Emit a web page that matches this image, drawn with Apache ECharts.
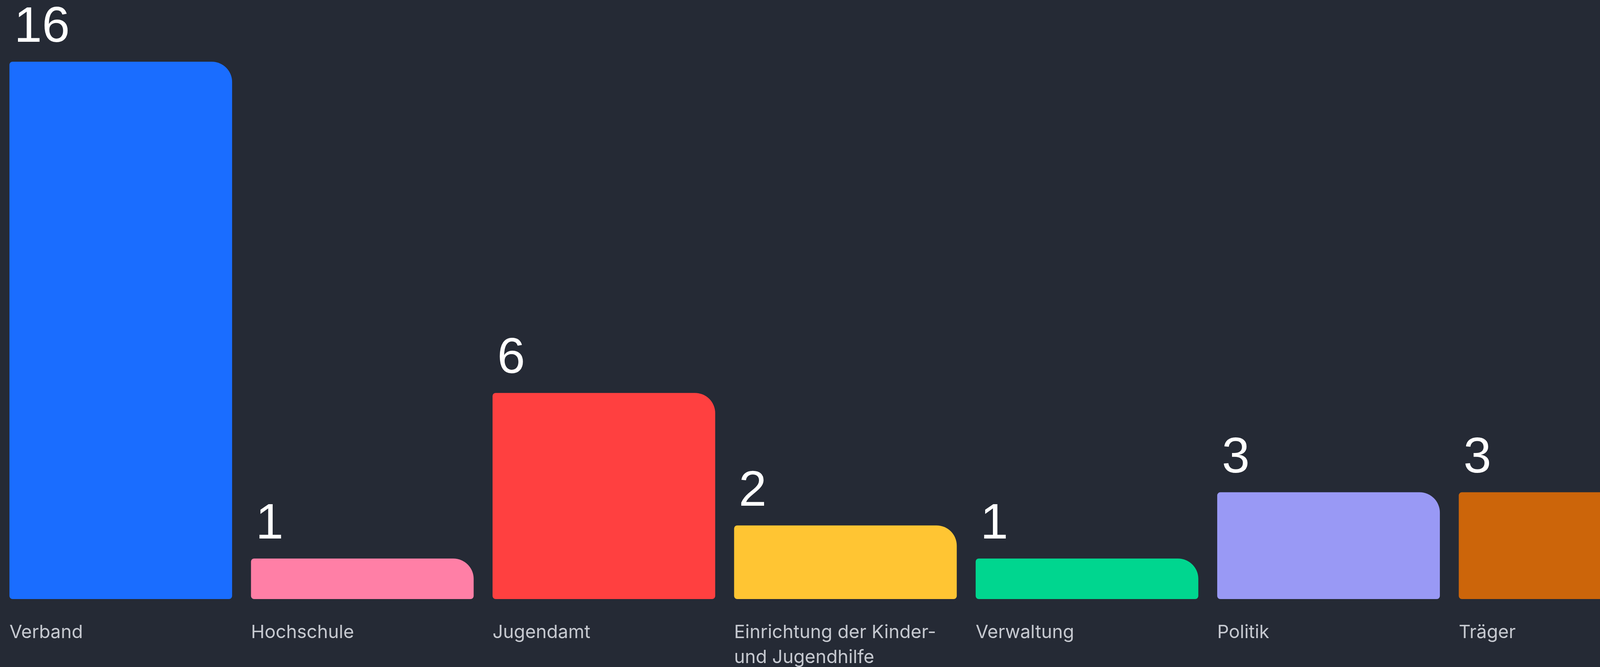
<!DOCTYPE html>
<html>
<head>
<meta charset="utf-8">
<script src="https://cdn.jsdelivr.net/npm/echarts@6/dist/echarts.min.js"></script>
<style>
html,body{margin:0;padding:0;background:#252a35;}
#chart{width:4947px;height:1708px;}
</style>
</head>
<body>
<div id="chart"></div>
<script>
const categories = ['Verband', 'Hochschule', 'Jugendamt', 'Einrichtung der Kinder-\nund Jugendhilfe', 'Verwaltung', 'Politik', 'Träger', 'andere/sonstige'];
const values = [16, 1, 6, 2, 1, 3, 3, 14];
const barColors = ['#1a6dff', '#ff7fa6', '#ff4040', '#ffc533', '#00d68f', '#9999f5', '#cc650a', '#1a6dff'];

const chart = echarts.init(document.getElementById('chart'), null, {renderer: 'canvas'});
chart.setOption({
  backgroundColor: '#252a35',
  animation: false,
  grid: {left: 0, width: 4956, top: 158, bottom: 174, containLabel: false},
  xAxis: {
    type: 'category',
    data: categories,
    axisLine: {show: false},
    axisTick: {show: false},
    axisLabel: {
      interval: 0,
      margin: 54,
      align: 'center',
      verticalAlign: 'top',
      formatter: function (v) {
        return v.split('\n').map(function (s) { return '{a|' + s + '}'; }).join('\n');
      },
      rich: {
        a: {width: 570, align: 'left', fontSize: 47, lineHeight: 64, color: '#c6c9d0', fontFamily: 'Inter'}
      }
    }
  },
  yAxis: {
    type: 'value',
    min: -0.224,
    max: 16,
    startValue: -0.224,
    show: false,
    splitLine: {show: false}
  },
  series: [{
    type: 'bar',
    barWidth: 570,
    data: values.map(function (v, i) {
      return {value: v, itemStyle: {color: barColors[i]}};
    }),
    itemStyle: {borderRadius: [8, 52, 8, 8]},
    label: {
      show: true,
      position: [12, -22],
      align: 'left',
      verticalAlign: 'bottom',
      fontSize: 128,
      lineHeight: 128,
      fontFamily: 'Liberation Sans',
      color: '#ffffff'
    }
  }]
});
</script>
</body>
</html>
